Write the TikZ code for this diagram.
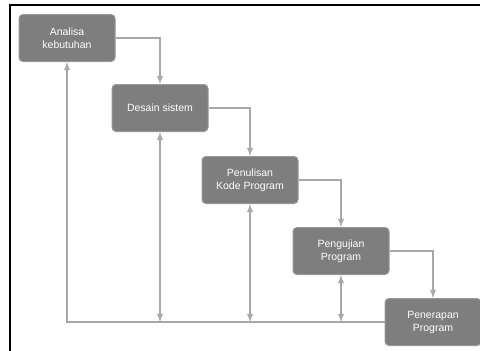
\documentclass[tikz,border=0pt]{standalone}
\usepackage{fontspec}
\setmainfont{Liberation Sans}
\usetikzlibrary{positioning}
\definecolor{boxgray}{HTML}{7E7E7E}
\definecolor{linegray}{HTML}{A8A8A8}
\tikzset{
  stage/.style={draw=boxgray!80!white, line width=1pt, fill=boxgray, rounded corners=4pt,
    minimum width=96pt, minimum height=47pt, align=center, text=white,
    font=\fontsize{10.5}{13}\selectfont},
  flow/.style={-latex, line width=1.8pt, color=linegray}
}
\begin{document}
\begin{tikzpicture}[x=1pt,y=-1pt]
  \useasboundingbox (0,0) rectangle (480,351);
  \draw[line width=2pt] (10,351) -- (10,5) -- (480,5);

  \node[stage] (analisa) at (67,38) {Analisa\\kebutuhan};
  \node[stage] (desain) at (160,108) {Desain sistem};
  \node[stage] (kode) at (250,180) {Penulisan\\Kode Program};
  \node[stage] (uji) at (341,251) {Pengujian\\Program};
  \node[stage] (terap) at (433,322) {Penerapan\\Program};

  \draw[flow] (analisa.east) -| (desain.north);
  \draw[flow] (desain.east) -| (kode.north);
  \draw[flow] (kode.east) -| (uji.north);
  \draw[flow] (uji.east) -| (terap.north);

  \draw[flow] (terap.west) -| (analisa.south);
  \foreach \s in {desain,kode,uji}
    \draw[flow,latex-latex] (\s.south) -- (\s.south |- terap.west);
\end{tikzpicture}
\end{document}
